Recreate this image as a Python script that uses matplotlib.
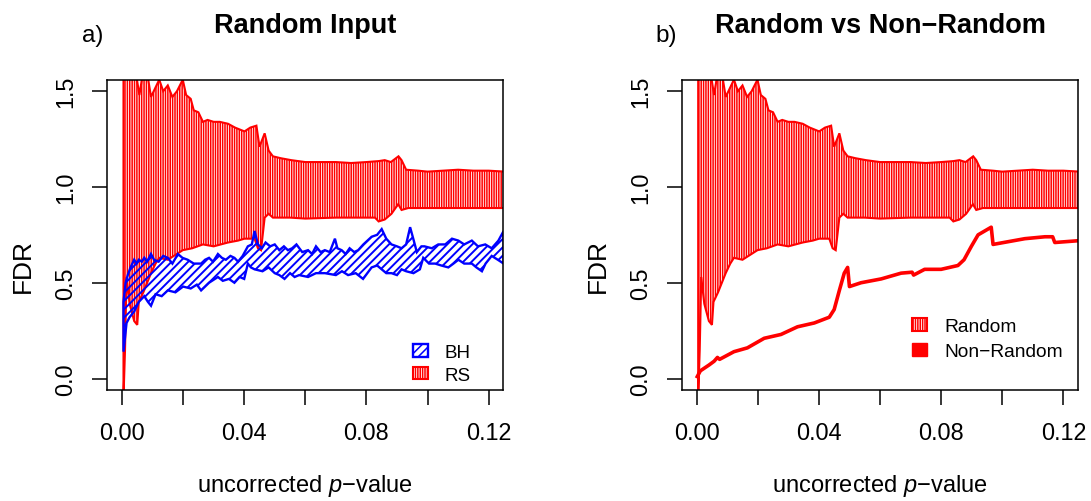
import numpy as np
import matplotlib
matplotlib.use("Agg")
import matplotlib.pyplot as plt
from matplotlib.patches import Patch

plt.rcParams['font.family'] = ['Liberation Sans', 'DejaVu Sans']
plt.rcParams['mathtext.fontset'] = 'custom'
plt.rcParams['mathtext.it'] = 'Liberation Sans:italic'
plt.rcParams['mathtext.rm'] = 'Liberation Sans'
plt.rcParams['hatch.linewidth'] = 1.1

# RS band (random input), upper and lower edge
rs_up_x = [0.0005, 0.003, 0.0045, 0.0057, 0.0065, 0.008, 0.0095, 0.011, 0.0122, 0.0135, 0.015,
           0.0165, 0.018, 0.0199, 0.021, 0.0225, 0.0235, 0.025, 0.0265, 0.028, 0.030, 0.032,
           0.0347, 0.037, 0.0401, 0.042, 0.044, 0.045, 0.0467, 0.048, 0.0494, 0.052, 0.0554,
           0.060, 0.065, 0.070, 0.075, 0.080, 0.084, 0.086, 0.088, 0.0905, 0.0915, 0.093,
           0.097, 0.100, 0.105, 0.110, 0.115, 0.120, 0.1254]
rs_up_y = [2.0, 2.0, 1.60, 1.48, 1.56, 1.62, 1.47, 1.52, 1.56, 1.50, 1.53,
           1.47, 1.50, 1.56, 1.48, 1.46, 1.40, 1.39, 1.34, 1.35, 1.34, 1.34,
           1.33, 1.31, 1.29, 1.31, 1.32, 1.21, 1.28, 1.19, 1.16, 1.15, 1.14,
           1.13, 1.13, 1.13, 1.125, 1.13, 1.135, 1.14, 1.13, 1.16, 1.14, 1.09,
           1.085, 1.08, 1.085, 1.09, 1.085, 1.085, 1.08]
rs_lo_x = [0.0005, 0.001, 0.0015, 0.0025, 0.004, 0.005, 0.0055, 0.007, 0.0095, 0.011, 0.0122,
           0.015, 0.0199, 0.023, 0.0265, 0.030, 0.0347, 0.038, 0.0401, 0.0434, 0.0445, 0.0455,
           0.0467, 0.048, 0.0494, 0.055, 0.060, 0.070, 0.0828, 0.084, 0.086, 0.0882, 0.0904,
           0.0915, 0.0937, 0.100, 0.110, 0.1254]
rs_lo_y = [-0.1, 0.15, 0.53, 0.39, 0.30, 0.28, 0.40, 0.45, 0.55, 0.60, 0.63,
           0.62, 0.67, 0.68, 0.70, 0.69, 0.71, 0.72, 0.73, 0.73, 0.68, 0.67,
           0.84, 0.86, 0.84, 0.84, 0.835, 0.84, 0.84, 0.82, 0.83, 0.86, 0.91,
           0.88, 0.89, 0.89, 0.89, 0.89]

# BH band
bh_up_x = [0.0005, 0.0012, 0.0019, 0.0028, 0.004, 0.0048, 0.0055, 0.0065, 0.0073, 0.0082,
           0.0095, 0.0105, 0.012, 0.0135, 0.015, 0.0165, 0.0183, 0.0198, 0.0215, 0.0235,
           0.0259, 0.0272, 0.0285, 0.0298, 0.0314, 0.0327, 0.034, 0.0355, 0.0368, 0.038,
           0.0395, 0.0412, 0.0425, 0.0434, 0.0445, 0.0458, 0.047, 0.0485, 0.050, 0.0515,
           0.053, 0.0543, 0.0557, 0.0571, 0.059, 0.0609, 0.0622, 0.0635, 0.065, 0.0664,
           0.068, 0.0697, 0.0705, 0.0719, 0.0732, 0.0745, 0.076, 0.0773, 0.079, 0.0817,
           0.0835, 0.085, 0.0865, 0.0882, 0.090, 0.0915, 0.093, 0.0943, 0.0955, 0.0965,
           0.098, 0.099, 0.1014, 0.1035, 0.1058, 0.108, 0.1101, 0.112, 0.1145, 0.1165,
           0.1189, 0.121, 0.1232, 0.1249]
bh_up_y = [0.40, 0.50, 0.54, 0.58, 0.62, 0.60, 0.62, 0.61, 0.63, 0.61,
           0.65, 0.62, 0.61, 0.64, 0.63, 0.60, 0.65, 0.63, 0.62, 0.60,
           0.60, 0.62, 0.63, 0.61, 0.65, 0.63, 0.62, 0.64, 0.63, 0.61,
           0.64, 0.69, 0.70, 0.77, 0.70, 0.68, 0.71, 0.69, 0.70, 0.67,
           0.69, 0.67, 0.68, 0.70, 0.66, 0.67, 0.65, 0.69, 0.66, 0.67,
           0.66, 0.73, 0.68, 0.67, 0.65, 0.68, 0.66, 0.67, 0.70, 0.74,
           0.75, 0.78, 0.73, 0.70, 0.69, 0.68, 0.70, 0.79, 0.72, 0.66,
           0.69, 0.69, 0.68, 0.70, 0.70, 0.73, 0.72, 0.70, 0.72, 0.69,
           0.70, 0.68, 0.72, 0.77]
bh_lo_x = [0.0005, 0.0015, 0.0025, 0.004, 0.0055, 0.0073, 0.0085, 0.0095, 0.011, 0.013,
           0.015, 0.0175, 0.020, 0.0225, 0.0245, 0.0259, 0.0285, 0.0314, 0.033, 0.035,
           0.0368, 0.0385, 0.040, 0.0412, 0.0422, 0.0434, 0.046, 0.048, 0.050, 0.0515,
           0.0532, 0.055, 0.0565, 0.058, 0.0609, 0.0635, 0.0664, 0.070, 0.072, 0.074,
           0.0765, 0.0789, 0.0817, 0.0835, 0.085, 0.0865, 0.0882, 0.090, 0.0915, 0.093,
           0.0954, 0.0975, 0.0986, 0.1005, 0.1025, 0.1045, 0.1068, 0.1085, 0.1101, 0.112,
           0.1145, 0.116, 0.1178, 0.119, 0.121, 0.123, 0.1249]
bh_lo_y = [0.14, 0.29, 0.32, 0.35, 0.40, 0.43, 0.40, 0.38, 0.44, 0.43,
           0.46, 0.45, 0.48, 0.47, 0.49, 0.46, 0.50, 0.53, 0.51, 0.52,
           0.50, 0.53, 0.52, 0.60, 0.58, 0.57, 0.56, 0.58, 0.55, 0.54,
           0.52, 0.55, 0.53, 0.54, 0.53, 0.55, 0.55, 0.54, 0.56, 0.54,
           0.55, 0.52, 0.58, 0.59, 0.57, 0.55, 0.55, 0.54, 0.57, 0.56,
           0.55, 0.57, 0.63, 0.60, 0.60, 0.59, 0.58, 0.60, 0.62, 0.60,
           0.60, 0.58, 0.56, 0.60, 0.64, 0.62, 0.60]

# non-random input
nr_x = [0.0002, 0.0012, 0.004, 0.0057, 0.0068, 0.0075, 0.0122, 0.0166, 0.0221, 0.0276, 0.033,
        0.0385, 0.0434, 0.045, 0.0467, 0.0483, 0.0494, 0.0500, 0.0538, 0.0604, 0.0669, 0.0705,
        0.0710, 0.0746, 0.080, 0.0855, 0.0875, 0.0899, 0.0921, 0.0964, 0.0970, 0.1074, 0.114,
        0.1165, 0.1172, 0.1254]
nr_y = [0.01, 0.04, 0.07, 0.09, 0.11, 0.10, 0.14, 0.16, 0.21, 0.23, 0.27,
        0.29, 0.32, 0.36, 0.46, 0.55, 0.58, 0.48, 0.50, 0.52, 0.55, 0.555,
        0.54, 0.57, 0.57, 0.59, 0.62, 0.69, 0.75, 0.79, 0.70, 0.73, 0.74,
        0.74, 0.71, 0.72]

xticks = [0.0, 0.02, 0.04, 0.06, 0.08, 0.10, 0.12]
xtick_labels = ['0.00', '', '0.04', '', '0.08', '', '0.12']
yticks = [0.0, 0.5, 1.0, 1.5]
ytick_labels = ['0.0', '0.5', '1.0', '1.5']


def band(ax, ux, uy, lx, ly, color, hatch, lw=1.5, hlw=None):
    px = np.r_[ux, lx[::-1]]
    py = np.r_[uy, ly[::-1]]
    p = ax.fill(px, py, facecolor='none', edgecolor=color, hatch=hatch, lw=lw)[0]
    if hlw is not None and hasattr(p, 'set_hatch_linewidth'):
        p.set_hatch_linewidth(hlw)
    return p


def setup(ax):
    ax.set_xlim(-0.0048, 0.1248)
    ax.set_ylim(-0.06, 1.56)
    ax.set_xticks(xticks)
    ax.set_xticklabels(xtick_labels)
    ax.set_yticks(yticks)
    ax.set_yticklabels(ytick_labels, rotation=90, va='center')
    ax.tick_params(length=10.5, width=1.1, labelsize=16.8, direction='out')
    ax.tick_params(axis='x', pad=12)
    ax.tick_params(axis='y', pad=11)
    for s in ax.spines.values():
        s.set_linewidth(1.1)


fig = plt.figure(figsize=(10.91, 5.02), dpi=100)
W, H = 1091.0, 502.0
ax1 = fig.add_axes([107.3 / W, (H - 391) / H, 396 / W, 310.3 / H])
ax2 = fig.add_axes([682 / W, (H - 391) / H, 396 / W, 310.3 / H])

# panel a
rs1 = band(ax1, rs_up_x, rs_up_y, rs_lo_x, rs_lo_y, 'red', '|||||||')
bh1 = band(ax1, bh_up_x, bh_up_y, bh_lo_x, bh_lo_y, 'blue', '////', lw=1.7, hlw=1.4)
setup(ax1)
ax1.legend([bh1, rs1], ['BH', 'RS'], loc='upper left', bbox_to_anchor=(0.772, 0.148),
           frameon=False, fontsize=13.5, handlelength=0.8, handleheight=0.65,
           handletextpad=0.9, labelspacing=0.3, borderpad=0, borderaxespad=0)

# panel b
rs2 = band(ax2, rs_up_x, rs_up_y, rs_lo_x, rs_lo_y, 'red', '|||||||')
ax2.plot(nr_x, nr_y, color='red', lw=2.6)
setup(ax2)
nr_patch = Patch(facecolor='red', edgecolor='red')
ax2.legend([rs2, nr_patch], ['Random', 'Non\u2212Random'], loc='upper left',
           bbox_to_anchor=(0.58, 0.231), frameon=False, fontsize=13.8, handlelength=0.8,
           handleheight=0.65, handletextpad=0.9, labelspacing=0.4, borderpad=0, borderaxespad=0)

# titles and labels
fig.text(305.3 / W, (H - 33) / H, 'Random Input', ha='center', va='baseline',
         fontsize=19.5, fontweight='bold')
fig.text(880 / W, (H - 33) / H, 'Random vs Non\u2212Random', ha='center', va='baseline',
         fontsize=19.5, fontweight='bold')
fig.text(82 / W, (H - 42) / H, 'a)', ha='left', va='baseline', fontsize=17.5)
fig.text(655 / W, (H - 42) / H, 'b)', ha='left', va='baseline', fontsize=17.5)
for cx in (305.3, 880):
    fig.text(cx / W, (H - 492) / H, 'uncorrected $\\mathit{p}$\u2212value', ha='center',
             va='baseline', fontsize=17)
fig.text(23 / W, 235.8 / H, 'FDR', rotation=90, ha='center', va='center', fontsize=19)
fig.text(598 / W, 235.8 / H, 'FDR', rotation=90, ha='center', va='center', fontsize=19)

fig.savefig('out.png', dpi=100)
